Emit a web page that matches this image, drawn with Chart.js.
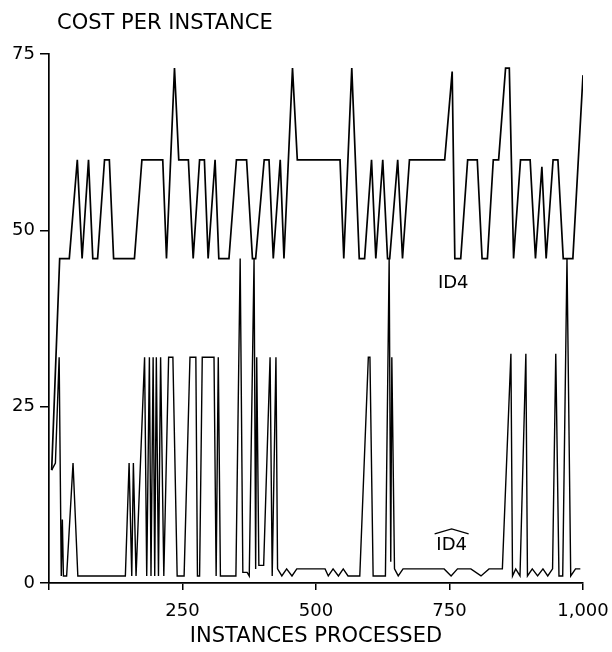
<!DOCTYPE html>
<html>
<head>
<meta charset="utf-8">
<script src="https://cdn.jsdelivr.net/npm/chart.js@4/dist/chart.umd.min.js"></script>
<style>
  html, body { margin: 0; padding: 0; background: #fff; }
  #wrap { position: relative; width: 612px; height: 652px; }
  #ttl { position: absolute; left: 57px; top: 10px; font: 21px "DejaVu Sans", sans-serif; color: #000; }
</style>
</head>
<body>
<div id="wrap">
  <div id="ttl">COST PER INSTANCE</div>
  <canvas id="c" width="612" height="652"></canvas>
</div>
<script>
// ID4 curve (upper)
const id4X = [5, 20, 38, 53, 62, 74, 82, 91, 104, 113, 121, 160, 174, 213, 220, 235, 243, 261, 270, 282, 291, 298, 311, 318, 337,
  351, 370, 381, 387, 403, 412, 420, 433, 440, 456, 465, 545, 552, 567, 581, 591, 604, 612, 625, 634, 638, 653, 662,
  675, 741, 755, 760, 771, 784, 802, 811, 821, 832, 842, 855, 862, 870, 883, 901, 911, 923, 931, 944, 953, 963, 981, 1000];
const id4Y = [16, 46, 46, 60, 46, 60, 46, 46, 60, 60, 46, 46, 60, 60, 46, 73, 60, 60, 46, 60, 60, 46, 60, 46, 46,
  60, 60, 46, 46, 60, 60, 46, 60, 46, 73, 60, 60, 46, 73, 46, 46, 60, 46, 60, 46, 46, 60, 46,
  60, 60, 72.5, 46, 46, 60, 60, 46, 46, 60, 60, 73, 73, 46, 60, 60, 46, 59, 46, 60, 60, 46, 46, 72];

// ID4 with hat (lower)
const hatX = [5, 12, 19, 23, 25, 27, 33, 45, 54, 143, 150, 155, 158, 163, 179, 183, 188, 191, 195, 198, 201, 205, 209, 215,
  224, 232, 240, 253, 264, 275, 278, 282, 287, 309, 313, 317, 321, 350, 358, 363, 371, 375, 384, 387, 389, 393, 402,
  414, 418, 425, 428, 436, 445, 455, 464, 477, 517, 523, 532, 542, 551, 560, 570, 582, 598, 601, 607, 622, 630,
  637, 640, 642, 647, 654, 663, 740, 753, 765, 790, 809, 824, 849, 865, 868, 874, 882, 893, 896, 905, 915, 925, 934, 943,
  949, 955, 962, 970, 977, 986, 995];
const hatY = [16, 17, 32, 1, 9, 1, 1, 17, 1, 1, 17, 1, 17, 1, 32, 1, 32, 1, 32, 1, 32, 1, 32, 1,
  32, 32, 1, 1, 32, 32, 1, 1, 32, 32, 1, 32, 1, 1, 46, 1.5, 1.5, 1, 46, 2, 32, 2.5, 2.5,
  32, 1, 32, 2, 1, 2, 1, 2, 2, 2, 1, 2, 1, 2, 1, 1, 1, 32, 32, 1, 1, 1,
  46, 3, 32, 2, 1, 2, 2, 1, 2, 2, 1, 2, 2, 32.5, 1, 2, 1, 32.5, 1, 2, 1, 2, 1, 2,
  32.5, 1, 1, 46, 1, 2, 2];

const xTicks = [250, 500, 750, 1000];
const yTicks = [0, 25, 50, 75];

const fontFam = '"DejaVu Sans", sans-serif';

// curve names written next to the lines
const curveLabels = {
  id: 'curveLabels',
  afterDatasetsDraw(chart) {
    const { ctx, scales } = chart;
    ctx.save();
    ctx.fillStyle = '#000';
    ctx.strokeStyle = '#000';
    ctx.font = '18px ' + fontFam;
    ctx.textAlign = 'center';
    ctx.textBaseline = 'middle';
    const x1 = scales.x.getPixelForValue(757), y1 = scales.y.getPixelForValue(42.5);
    ctx.fillText('ID4', x1, y1);
    const x2 = scales.x.getPixelForValue(754), y2 = scales.y.getPixelForValue(5.4);
    ctx.fillText('ID4', x2, y2);
    // the hat over the second name
    ctx.lineWidth = 1.3;
    ctx.beginPath();
    ctx.moveTo(x2 - 17, y2 - 11);
    ctx.lineTo(x2, y2 - 16);
    ctx.lineTo(x2 + 17, y2 - 11);
    ctx.stroke();
    ctx.restore();
  }
};

new Chart(document.getElementById('c'), {
  type: 'line',
  data: {
    datasets: [
      {
        label: 'ID4',
        data: id4X.map((x, i) => ({ x: x, y: id4Y[i] })),
        borderColor: '#000',
        borderWidth: 1.7,
        pointRadius: 0,
        tension: 0
      },
      {
        label: 'ID4 hat',
        data: hatX.map((x, i) => ({ x: x, y: hatY[i] })),
        borderColor: '#000',
        borderWidth: 1.4,
        pointRadius: 0,
        tension: 0
      }
    ]
  },
  options: {
    responsive: false,
    animation: false,
    layout: { padding: { top: 54, right: 29, left: 0, bottom: 0 } },
    plugins: {
      legend: { display: false },
      tooltip: { enabled: false }
    },
    scales: {
      x: {
        type: 'linear',
        min: 0,
        max: 1000,
        afterFit: s => { s.height = 69; s.paddingLeft = 0; s.paddingRight = 0; },
        afterBuildTicks: s => { s.ticks = [0].concat(xTicks).map(v => ({ value: v })); },
        ticks: {
          color: '#000',
          font: { family: fontFam, size: 18 },
          maxRotation: 0,
          autoSkip: false,
          padding: 11,
          callback: v => (v === 0 ? '' : v.toLocaleString('en-US'))
        },
        grid: { drawOnChartArea: false, color: '#000', lineWidth: 1.5, tickLength: 7 },
        border: { color: '#000', width: 1.7 },
        title: {
          display: true,
          text: 'INSTANCES PROCESSED',
          color: '#000',
          font: { family: fontFam, size: 21 },
          padding: { top: 0, bottom: 3 }
        }
      },
      y: {
        min: 0,
        max: 75,
        afterFit: s => { s.width = 49; },
        afterBuildTicks: s => { s.ticks = yTicks.map(v => ({ value: v })); },
        ticks: {
          color: '#000',
          font: { family: fontFam, size: 18 },
          padding: 5
        },
        grid: { drawOnChartArea: false, color: '#000', lineWidth: 1.5, tickLength: 9 },
        border: { color: '#000', width: 1.7 }
      }
    }
  },
  plugins: [curveLabels]
});
</script>
</body>
</html>
